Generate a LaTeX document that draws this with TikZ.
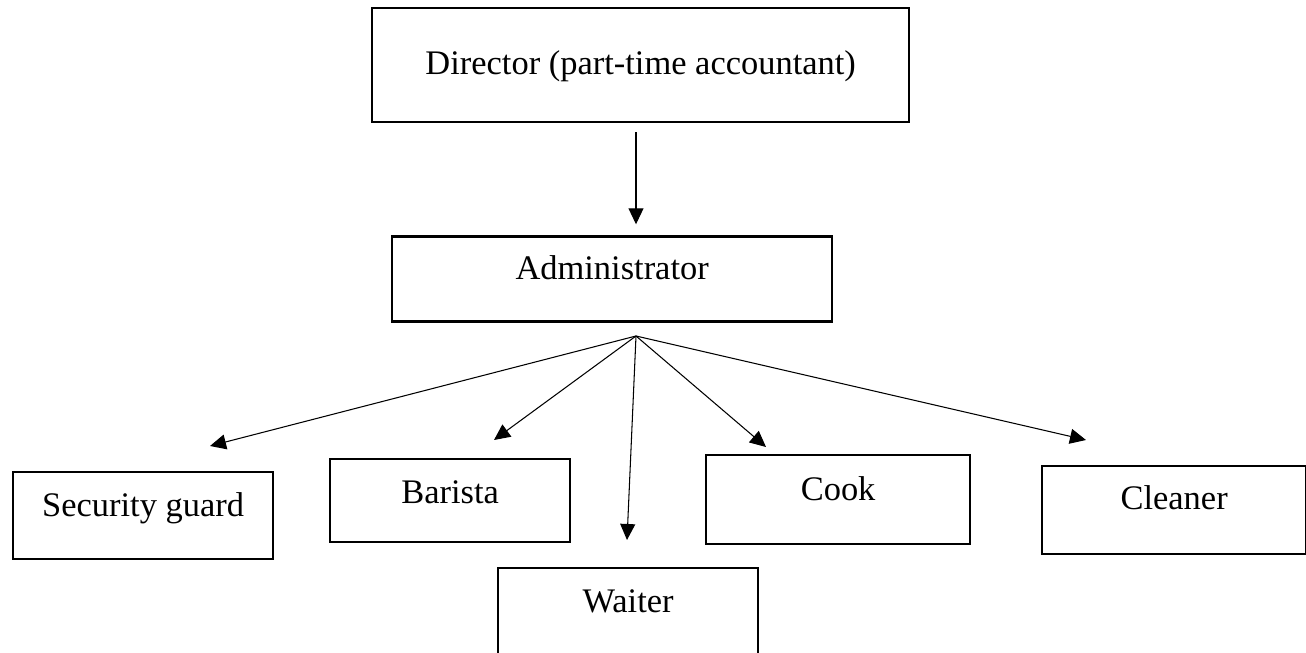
\documentclass[tikz,border=0pt]{standalone}
\usepackage{fontspec}
\setmainfont{Liberation Serif}
\usetikzlibrary{arrows.meta,positioning}

\begin{document}
\begin{tikzpicture}[
  font=\fontsize{19.6}{23}\selectfont,
  >={Triangle[length=0.32cm, width=0.3cm]},
  box/.style={draw, line width=1.3pt, inner sep=0pt, anchor=north west},
  flow/.style={->, line width=0.6pt}
]
\useasboundingbox (0,0) rectangle (26.12,-13.06);

\node[box, minimum width=10.74cm, text height=1.32cm, text depth=0.96cm] (director) at (7.42,-0.14) {Director (part-time accountant)};
\node[box, minimum width=8.8cm, text height=0.86cm, text depth=0.84cm, below=2.24cm of director, xshift=-0.57cm] (admin) {Administrator};

\node[box, minimum width=5.2cm, text height=0.88cm, text depth=0.86cm] (guard) at (0.24,-9.42) {Security guard};
\node[box, minimum width=4.8cm, text height=0.88cm, text depth=0.78cm] (barista) at (6.58,-9.16) {Barista};
\node[box, minimum width=5.2cm, text height=0.88cm, text depth=0.90cm] (waiter) at (9.94,-11.34) {Waiter};
\node[box, minimum width=5.28cm, text height=0.90cm, text depth=0.88cm] (cook) at (14.10,-9.08) {Cook};
\node[box, minimum width=5.28cm, text height=0.86cm, text depth=0.90cm] (cleaner) at (20.82,-9.30) {Cleaner};

% fan-out point under the administrator and arrow ends
\coordinate (fan) at (12.72,-6.72);
\coordinate (guardtip) at (4.20,-8.92);
\coordinate (baristatip) at (9.88,-8.80);
\coordinate (waitertip) at (12.54,-10.80);
\coordinate (cooktip) at (15.32,-8.94);
\coordinate (cleanertip) at (21.72,-8.80);

\draw[flow, shorten <=0.18cm, shorten >=0.22cm] (director.south -| fan) -- (admin.north -| fan);

\draw[flow] (fan) -- (guardtip);
\draw[flow] (fan) -- (baristatip);
\draw[flow] (fan) -- (waitertip);
\draw[flow] (fan) -- (cooktip);
\draw[flow] (fan) -- (cleanertip);
\end{tikzpicture}
\end{document}
